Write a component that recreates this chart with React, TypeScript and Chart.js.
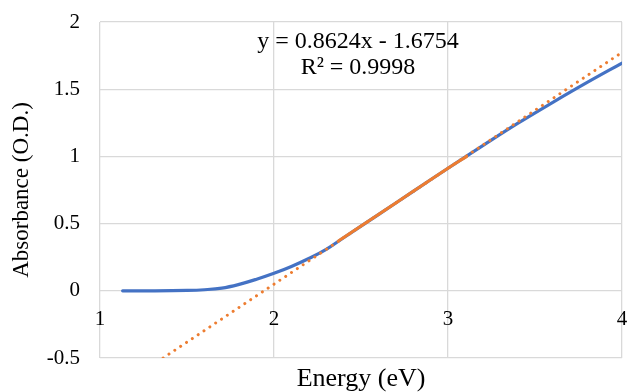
import React, { useEffect, useRef } from "react";
import { Chart, registerables } from "chart.js";
Chart.register(...registerables);

const energyX = [1.13, 1.3, 1.5, 1.6, 1.7, 1.8, 1.9, 2.0, 2.1, 2.2, 2.3, 2.4, 2.6, 2.8, 3.0, 3.2, 3.4, 3.6, 3.8, 4.0];
const absorbanceY = [0, 0, 0.003, 0.008, 0.02, 0.048, 0.086, 0.13, 0.181, 0.24, 0.308, 0.395, 0.567, 0.74, 0.912, 1.08, 1.245, 1.40, 1.55, 1.694];

const fitX = [2.37, 2.6, 2.8, 3.0, 3.11];
const fitY = [0.37, 0.567, 0.74, 0.912, 1.002];

const trendX = [1.363, 4.0];
const trendY = [-0.5, 1.774];

const xTickValues = [1, 2, 3, 4];
const xTickLabels = ["1", "2", "3", "4"];
const yTickValues = [-0.5, 0, 0.5, 1, 1.5, 2];
const yTickLabels = ["-0.5", "0", "0.5", "1", "1.5", "2"];

const equationLines = ["y = 0.8624x - 1.6754", "R\u00B2 = 0.9998"];

const SERIF = "'Liberation Serif', 'Times New Roman', serif";

export default function App() {
  const ref = useRef<HTMLCanvasElement | null>(null);
  useEffect(() => {
    const canvas = ref.current;
    if (!canvas) return;
    const overlay = {
      id: "overlay",
      afterDraw(chart: any) {
        const ctx = chart.ctx;
        const xs = chart.scales.x;
        const ys = chart.scales.y;
        ctx.save();
        ctx.fillStyle = "#000";
        ctx.font = `21px ${SERIF}`;
        ctx.textAlign = "center";
        ctx.textBaseline = "middle";
        const y0 = ys.getPixelForValue(0);
        xTickValues.forEach((v, i) => {
          ctx.fillText(xTickLabels[i], xs.getPixelForValue(v), y0 + 29);
        });
        ctx.font = `24px ${SERIF}`;
        ctx.fillText(equationLines[0], 358, 42);
        ctx.fillText(equationLines[1], 358, 68);
        ctx.restore();
      },
    };
    const chart = new Chart(canvas, {
      type: "line",
      data: {
        datasets: [
          {
            data: trendX.map((x, i) => ({ x, y: trendY[i] })),
            borderColor: "#ED7D31",
            borderWidth: 3,
            borderDash: [0.01, 7],
            borderCapStyle: "round",
            pointRadius: 0,
            order: 1,
          },
          {
            data: energyX.map((x, i) => ({ x, y: absorbanceY[i] })),
            borderColor: "#4472C4",
            borderWidth: 3.2,
            borderCapStyle: "round",
            tension: 0.4,
            pointRadius: 0,
            order: 3,
          },
          {
            data: fitX.map((x, i) => ({ x, y: fitY[i] })),
            borderColor: "#ED7D31",
            borderWidth: 3,
            tension: 0.4,
            pointRadius: 0,
            order: 2,
          },
        ],
      },
      options: {
        animation: false,
        responsive: false,
        layout: { padding: { left: 0, right: 6, top: 22, bottom: 0 } },
        plugins: { legend: { display: false }, tooltip: { enabled: false } },
        scales: {
          x: {
            type: "linear",
            min: 1,
            max: 4,
            afterBuildTicks: (s: any) => {
              s.ticks = xTickValues.map((v) => ({ value: v }));
            },
            afterFit: (s: any) => {
              s.height = 34;
              s.paddingLeft = 0;
              s.paddingRight = 0;
            },
            ticks: { display: false },
            grid: { color: "#D9D9D9", lineWidth: 1.3, drawTicks: false },
            border: { display: false },
            title: {
              display: true,
              text: "Energy (eV)",
              color: "#000",
              font: { family: SERIF, size: 26, lineHeight: 1 },
              padding: { top: 0, bottom: 0 },
            },
          },
          y: {
            type: "linear",
            min: -0.5,
            max: 2,
            afterBuildTicks: (s: any) => {
              s.ticks = yTickValues.map((v) => ({ value: v }));
            },
            afterFit: (s: any) => {
              s.width = 100;
              s.paddingTop = 0;
              s.paddingBottom = 0;
            },
            ticks: {
              color: "#000",
              padding: 20,
              font: { family: SERIF, size: 21 },
              callback: (v: any) => {
                const i = yTickValues.indexOf(Number(v));
                return i >= 0 ? yTickLabels[i] : "";
              },
            },
            grid: { color: "#D9D9D9", lineWidth: 1.3, drawTicks: false },
            border: { display: false },
            title: {
              display: true,
              text: "Absorbance (O.D.)",
              color: "#000",
              font: { family: SERIF, size: 23, lineHeight: 1 },
              padding: { top: 10, bottom: 0 },
            },
          },
        },
      },
      plugins: [overlay],
    } as any);
    return () => chart.destroy();
  }, []);
  return (
    <div style={{ position: "absolute", left: 0, top: 0, width: 628, height: 392, background: "#fff" }}>
      <canvas ref={ref} width={628} height={392} style={{ display: "block", width: 628, height: 392 }} />
    </div>
  );
}
